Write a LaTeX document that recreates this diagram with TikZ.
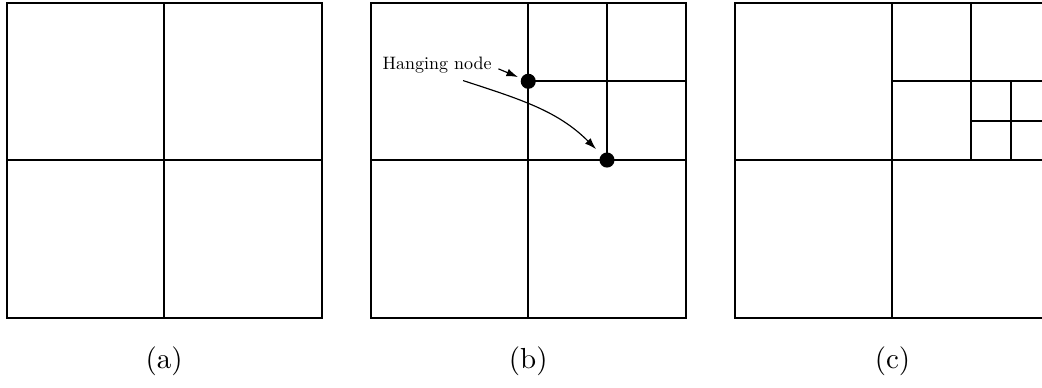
\documentclass[tikz,border=0pt]{standalone}
\usetikzlibrary{arrows.meta}
\begin{document}
\begin{tikzpicture}[scale=0.9545,
  cell/.style={line width=0.7pt},
  hang/.style={circle,fill=black,inner sep=0pt,minimum size=5.2pt},
  note/.style={inner sep=2.2pt},
  tip/.style={-{Latex[length=4pt,width=2.7pt]}}]
  \useasboundingbox (-0.083,-0.889) rectangle (13.149,4.032);
  % (a) uniform mesh
  \draw[cell] (0,0) rectangle (4,4);
  \draw[cell] (2,0) -- (2,4) (0,2) -- (4,2);
  \node (capa) at (2,-0.56) {(a)};
  % (b) one cell refined
  \draw[cell] (4.625,0) rectangle (8.625,4);
  \draw[cell] (6.625,0) -- (6.625,4) (4.625,2) -- (8.625,2);
  \draw[cell] (7.625,2) -- (7.625,4) (6.625,3) -- (8.625,3);
  \node[hang] (hn1) at (6.625,3) {};
  \node[hang] (hn2) at (7.625,2) {};
  \node[note] (lbl) at (5.467,3.2) {\scalebox{0.62}{Hanging node}};
  \draw[tip,shorten >=1pt] ([yshift=-1.2pt]lbl.east) -- (hn1);
  \draw[tip,shorten >=2.5pt] (lbl.-30) to[out=-18,in=135] (hn2);
  \node (capb) at (6.625,-0.56) {(b)};
  % (c) refined twice
  \draw[cell] (9.25,0) rectangle (13.25,4);
  \draw[cell] (11.25,0) -- (11.25,4) (9.25,2) -- (13.25,2);
  \draw[cell] (12.25,2) -- (12.25,4) (11.25,3) -- (13.25,3);
  \draw[cell] (12.75,2) -- (12.75,3) (12.25,2.5) -- (13.25,2.5);
  \node (capc) at (11.25,-0.56) {(c)};
\end{tikzpicture}
\end{document}
